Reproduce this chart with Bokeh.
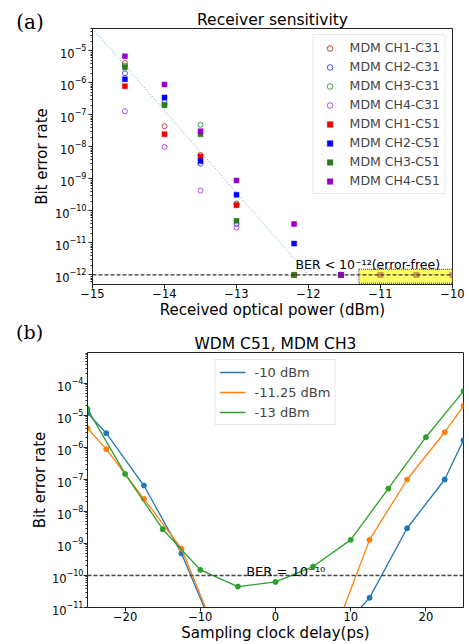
from bokeh.plotting import figure
from bokeh.models import (FixedTicker, CustomJSTickFormatter, Legend, LegendItem,
                          Span, Label, Range1d, Title)
from bokeh.layouts import column, row
from bokeh.embed import file_html
from bokeh.resources import INLINE

FONT = "DejaVu Sans"

# ---------------- panel (a) data ----------------
a_title = "Receiver sensitivity"
a_xlabel = "Received optical power (dBm)"
a_ylabel = "Bit error rate"
a_xticks = [-15, -14, -13, -12, -11, -10]
a_yticks = [1e-12, 1e-11, 1e-10, 1e-9, 1e-8, 1e-7, 1e-6, 1e-5]

c31_power = [-14.55, -14.0, -13.5, -13.0]
ch1_c31 = [4.2e-6, 4.4e-8, 5.6e-9, 1.6e-10]
ch2_c31 = [2.0e-6, 2.5e-7, 3.0e-9, 3.9e-11]
ch3_c31 = [3.5e-6, 2.1e-7, 4.9e-8, 1.7e-10]
ch4_c31 = [1.3e-7, 1.0e-8, 4.3e-10, 3.0e-11]

c51_power = [-14.55, -14.0, -13.5, -13.0, -12.2, -11.55, -11.0, -10.5, -10.0]
ch1_c51 = [7.9e-7, 2.5e-8, 5.0e-9, 1.5e-10, 1e-12, 1e-12, 1e-12, 1e-12, 1e-12]
ch2_c51 = [1.3e-6, 3.5e-7, 3.6e-9, 3.2e-10, 9.5e-12, 1e-12, 1e-12, 1e-12, 1e-12]
ch3_c51 = [3.1e-6, 2.0e-7, 2.5e-8, 4.9e-11, 1e-12, 1e-12, 1e-12, 1e-12, 1e-12]
ch4_c51 = [6.8e-6, 8.9e-7, 3.1e-8, 8.9e-10, 3.9e-11, 1e-12, 1e-12, 1e-12, 1e-12]

a_labels = ["MDM CH1-C31", "MDM CH2-C31", "MDM CH3-C31", "MDM CH4-C31",
            "MDM CH1-C51", "MDM CH2-C51", "MDM CH3-C51", "MDM CH4-C51"]

fit_power = [-15.0, -12.0]
fit_ber = [5e-5, 1e-12]
ber_floor = 1e-12
errfree_left, errfree_right = -11.3, -10.0
errfree_bottom, errfree_top = 5.5e-13, 1.5e-12
errfree_text = "BER < 10\u207b\u00b9\u00b2(error-free)"
errfree_text_pos = (-12.18, 2.1e-12)
a_tag_pos = (-16.06, 10 ** -4.09)

# ---------------- panel (b) data ----------------
b_title = "WDM C51, MDM CH3"
b_xlabel = "Sampling clock delay(ps)"
b_ylabel = "Bit error rate"
b_xticks = [-20, -10, 0, 10, 20]
b_yticks = [1e-11, 1e-10, 1e-9, 1e-8, 1e-7, 1e-6, 1e-5, 1e-4]

delay_m10 = [-25, -22.5, -17.5, -12.5, -7.5, 7.5, 12.5, 17.5, 22.5, 25]
ber_m10 = [1.2e-5, 2.8e-6, 6.5e-8, 4.9e-10, 8e-13, 1.0e-12, 2.0e-11, 3.0e-9, 1.0e-7, 1.7e-6]
delay_m1125 = [-25, -22.5, -17.5, -12.5, -7.5, 7.5, 12.5, 17.5, 22.5, 25]
ber_m1125 = [4.0e-6, 8.9e-7, 2.5e-8, 6.9e-10, 9e-13, 1.0e-12, 1.3e-9, 1.0e-7, 3.0e-6, 2.0e-5]
delay_m13 = [-25, -20, -15, -10, -5, 0, 5, 10, 15, 20, 25]
ber_m13 = [1.6e-5, 1.5e-7, 2.8e-9, 1.5e-10, 4.5e-11, 6.3e-11, 1.9e-10, 1.3e-9, 5.2e-8, 2.1e-6, 5.8e-5]
b_labels = ["-10 dBm", "-11.25 dBm", "-13 dBm"]
ber_threshold = 1e-10
thr_text = "BER = 10\u207b\u00b9\u2070"
thr_text_pos = (-3.9, 1.32e-10)
b_tag_pos = (-34.5, 10 ** -2.39)

minus_fmt = CustomJSTickFormatter(
    code="return tick < 0 ? '\\u2212' + Math.abs(tick) : tick.toString();")


def minor(lo, hi):
    return [m * 10.0 ** e for e in range(lo, hi) for m in range(2, 10)]


def style(p, xl, yl, ystand=2, ylabstand=1):
    p.outline_line_color = "#222222"
    p.outline_line_width = 1
    p.xgrid.visible = False
    p.ygrid.visible = False
    for ax in (p.xaxis[0], p.yaxis[0]):
        ax.axis_line_color = "#222222"
        ax.major_tick_line_color = "#222222"
        ax.minor_tick_line_color = "#222222"
        ax.major_tick_in = 0
        ax.major_tick_out = 4
        ax.minor_tick_in = 0
        ax.minor_tick_out = 2
        ax.major_label_text_font = FONT
        ax.major_label_text_font_size = "11.5px"
        ax.major_label_text_color = "black"
        ax.axis_label_text_font = FONT
        ax.axis_label_text_font_size = "15px"
        ax.axis_label_text_font_style = "normal"
        ax.axis_label_text_color = "black"
    p.xaxis.major_label_standoff = 0
    p.xaxis.axis_label_standoff = 0
    p.yaxis.major_label_standoff = ystand
    p.yaxis.axis_label_standoff = ylabstand
    p.xaxis.axis_label = xl
    p.yaxis.axis_label = yl


# ---------------- figure (a) ----------------
pa = figure(width=469, height=321, y_axis_type="log",
            x_range=Range1d(-15, -10), y_range=Range1d(10 ** -12.3, 10 ** -4.3),
            output_backend="svg", toolbar_location=None,
            min_border_left=92, min_border_right=17, min_border_top=28, min_border_bottom=36)
pa.add_layout(Title(text=a_title, align="center", text_font=FONT, text_font_size="15.5px",
                    text_font_style="normal", text_color="black", standoff=0), "above")
style(pa, a_xlabel, a_ylabel)
pa.xaxis.ticker = FixedTicker(ticks=a_xticks)
pa.xaxis.formatter = minus_fmt
pa.yaxis.ticker = FixedTicker(ticks=a_yticks, minor_ticks=minor(-13, -4))

pa.line(fit_power, fit_ber, line_color="#5a9bd4", line_dash="1 2", line_width=1)

c31_colors = ["#c8403a", "#4848e8", "#40a040", "#b050e0"]
c51_colors = ["#ee0000", "#0000ff", "#2a7a1e", "#9a00cc"]
items = []
for ys, col, lab in zip([ch1_c31, ch2_c31, ch3_c31, ch4_c31], c31_colors, a_labels[:4]):
    r = pa.scatter(c31_power, ys, marker="circle", size=5, fill_color=None,
                   line_color=col, line_width=1)
    items.append(LegendItem(label=lab, renderers=[r]))
for ys, col, lab in zip([ch1_c51, ch2_c51, ch3_c51, ch4_c51], c51_colors, a_labels[4:]):
    r = pa.scatter(c51_power, ys, marker="square", size=5, fill_color=col,
                   line_color=col, line_width=0.5)
    items.append(LegendItem(label=lab, renderers=[r]))

pa.quad(left=[errfree_left], right=[errfree_right], bottom=[errfree_bottom], top=[errfree_top],
        fill_color="#ffff00", fill_alpha=0.6, line_color="#333333", line_dash="1 1",
        line_width=1)
pa.add_layout(Span(location=ber_floor, dimension="width", line_color="#333333",
                   line_dash="4 2", line_width=1.3))
pa.add_layout(Label(x=errfree_text_pos[0], y=errfree_text_pos[1], text=errfree_text,
                    text_font=FONT, text_font_size="12.5px", text_color="black",
                    text_baseline="alphabetic"))
pa.add_layout(Label(x=a_tag_pos[0], y=a_tag_pos[1], text="(a)",
                    text_font="DejaVu Serif", text_font_size="20px", text_color="black",
                    text_baseline="middle"), "left")

leg_a = Legend(items=items, location="top_right", margin=6, padding=5, spacing=4,
               label_height=14, glyph_height=14, glyph_width=22, label_standoff=9,
               label_text_font=FONT, label_text_font_size="12.5px",
               border_line_color="#d0d0d0", border_line_width=1,
               background_fill_alpha=0.85)
pa.add_layout(leg_a)

# ---------------- figure (b) ----------------
pb = figure(width=469, height=323, y_axis_type="log",
            x_range=Range1d(-25, 25), y_range=Range1d(1e-11, 10 ** -3.03),
            output_backend="svg", toolbar_location=None,
            min_border_left=87, min_border_right=6, min_border_top=31, min_border_bottom=36)
pb.add_layout(Title(text=b_title, align="center", text_font=FONT, text_font_size="15.5px",
                    text_font_style="normal", text_color="black", standoff=0), "above")
style(pb, b_xlabel, b_ylabel, ystand=0, ylabstand=0)
pb.xaxis.ticker = FixedTicker(ticks=b_xticks)
pb.xaxis.formatter = minus_fmt
pb.yaxis.ticker = FixedTicker(ticks=b_yticks, minor_ticks=minor(-12, -3))

b_colors = ["#1f77b4", "#ff7f0e", "#2ca02c"]
b_items = []
for xs, ys, col, lab in zip([delay_m10, delay_m1125, delay_m13],
                            [ber_m10, ber_m1125, ber_m13], b_colors, b_labels):
    r = pb.line(xs, ys, line_color=col, line_width=1.3)
    pb.scatter(xs, ys, marker="circle", size=5, fill_color=col, line_color=col)
    b_items.append(LegendItem(label=lab, renderers=[r]))

pb.add_layout(Span(location=ber_threshold, dimension="width", line_color="#444444",
                   line_dash="4 2", line_width=1.5))
pb.add_layout(Label(x=thr_text_pos[0], y=thr_text_pos[1], text=thr_text,
                    text_font=FONT, text_font_size="13px", text_color="black",
                    text_baseline="alphabetic"))
pb.add_layout(Label(x=b_tag_pos[0], y=b_tag_pos[1], text="(b)",
                    text_font="DejaVu Serif", text_font_size="19px", text_color="black",
                    text_baseline="middle"), "left")

leg_b = Legend(items=b_items, location="top_center", margin=7, padding=4, spacing=4,
               label_height=16, glyph_height=16, glyph_width=26, label_standoff=9,
               label_text_font=FONT, label_text_font_size="13px",
               border_line_color="#d0d0d0", border_line_width=1,
               background_fill_alpha=0.85)
pb.add_layout(leg_b)

layout = column(row(pa), row(pb))
open("out.html", "w").write(file_html(layout, INLINE))
